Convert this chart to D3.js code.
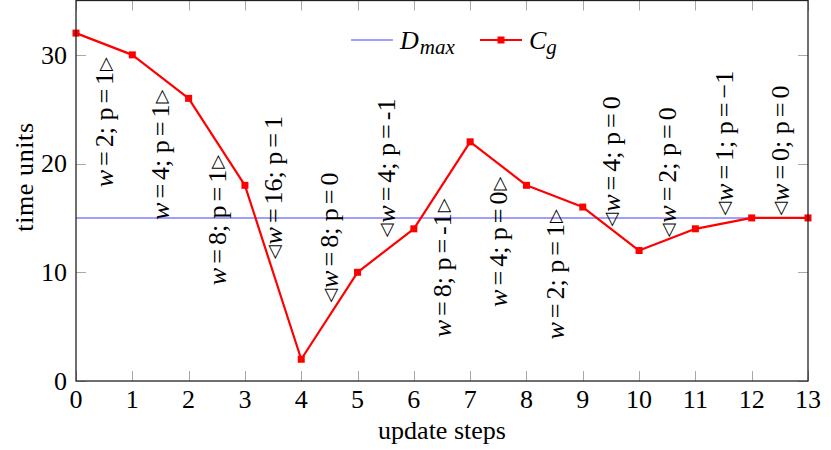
<!DOCTYPE html>
<html>
<head>
<meta charset="utf-8">
<script src="https://cdn.jsdelivr.net/npm/d3@7"></script>
<style>
  html, body { margin: 0; padding: 0; background: #fff; }
  svg { display: block; }
  text { font-family: "Liberation Serif", "DejaVu Serif", serif; fill: #000; }
</style>
</head>
<body>
<svg id="chart" width="831" height="450"></svg>
<script>
// ---- data ----
const steps = [0,1,2,3,4,5,6,7,8,9,10,11,12,13];
const cgValues = [32,30,26,18,2,10,14,22,18,16,12,14,15,15];
const dmaxValue = 15;
const xTicks = [0,1,2,3,4,5,6,7,8,9,10,11,12,13];
const yTicks = [0,10,20,30];
// annotations between steps
const annotSteps = [0.5,1.5,2.5,3.5,4.5,5.5,6.5,7.5,8.5,9.5,10.5,11.5,12.5];
const annotW = ["2","4","8","16","8","4","8","4","2","4","2","1","0"];
const annotP = ["1","1","1","1","0","-1","-1","0","1","0","0","\u22121","0"];
const annotSide = ["below","below","below","above","above","above","below","below","below","above","above","above","above"];
const annotAt = [29.8,26.8,20.8,11.2,7.2,13.2,16.8,18.8,15.8,14.2,13.2,15.2,15.2];

// ---- layout ----
const svg = d3.select("#chart");
const L = 76, R = 808, T = 0.5, B = 381;
const x = d3.scaleLinear().domain([0,13]).range([L,R]);
const y = d3.scaleLinear().domain([0,35]).range([B,T]);
const FS = 26;

// ticks (inward, all sides)
const tickLen = 10;
const tg = svg.append("g").attr("stroke","#a8a8a8").attr("stroke-width",1);
xTicks.forEach(t => {
  const px = Math.round(x(t)) + 0.5;
  tg.append("line").attr("x1",px).attr("x2",px).attr("y1",B).attr("y2",B-tickLen);
  tg.append("line").attr("x1",px).attr("x2",px).attr("y1",T).attr("y2",T+tickLen);
});
yTicks.forEach(t => {
  const py = Math.round(y(t)) + 0.5;
  tg.append("line").attr("x1",L).attr("x2",L+tickLen).attr("y1",py).attr("y2",py);
  tg.append("line").attr("x1",R).attr("x2",R-tickLen).attr("y1",py).attr("y2",py);
});

// tick labels
svg.append("g").selectAll("text").data(xTicks).join("text")
  .attr("x", d => x(d)).attr("y", 408)
  .attr("text-anchor","middle").attr("font-size",FS)
  .text(d => d);
svg.append("g").selectAll("text").data(yTicks).join("text")
  .attr("x", 67).attr("y", d => y(d)).attr("dy","0.34em")
  .attr("text-anchor","end").attr("font-size",FS)
  .text(d => d);

// axis labels
svg.append("text").attr("x",(L+R)/2).attr("y",439).attr("text-anchor","middle")
  .attr("font-size",FS).text("update steps");
svg.append("text").attr("transform","translate(33,177) rotate(-90)")
  .attr("text-anchor","middle").attr("font-size",FS).attr("letter-spacing",0.6).text("time units");

// Dmax line
svg.append("line")
  .attr("x1", x(0)).attr("x2", x(13))
  .attr("y1", y(dmaxValue)).attr("y2", y(dmaxValue))
  .attr("stroke","#7f7fff").attr("stroke-width",1.6);

// Cg line
const line = d3.line().x((d,i) => x(steps[i])).y(d => y(d));
svg.append("path").datum(cgValues).attr("d", line)
  .attr("fill","none").attr("stroke","#ff0000").attr("stroke-width",2.2)
  .attr("stroke-linejoin","round");
const ms = 7;
svg.append("g").selectAll("rect").data(cgValues).join("rect")
  .attr("x",(d,i) => x(steps[i]) - ms/2).attr("y", d => y(d) - ms/2)
  .attr("width",ms).attr("height",ms).attr("fill","#ff0000");

// annotations
const ag = svg.append("g");
const TRI_SHIFT = 2.5;
annotSteps.forEach((s,i) => {
  const below = annotSide[i] === "below";
  const g = ag.append("g")
    .attr("transform", `translate(${x(s)},${y(annotAt[i])}) rotate(-90)`);
  const t = g.append("text")
    .attr("text-anchor", below ? "end" : "start")
    .attr("y", 9)
    .attr("font-size",FS);
  const tri = (ch, dy) => t.append("tspan").attr("font-family","DejaVu Sans").attr("font-size",18)
      .attr("dy", dy).text(ch);
  if (!below) { tri("\u25C1", -TRI_SHIFT); }
  t.append("tspan").attr("font-style","italic").attr("dy", below ? null : TRI_SHIFT).attr("dx", below ? null : 1).text("w");
  t.append("tspan").attr("dx",4).text("=");
  t.append("tspan").attr("dx",4).text(annotW[i] + "; p");
  t.append("tspan").attr("dx",4).text("=");
  t.append("tspan").attr("dx",4).text(annotP[i]);
  if (below) tri("\u25B7", -TRI_SHIFT).attr("dx",1);
});

// legend
const lg = svg.append("g");
lg.append("line").attr("x1",351).attr("x2",393).attr("y1",40).attr("y2",40)
  .attr("stroke","#7f7fff").attr("stroke-width",1.6);
const lt1 = lg.append("text").attr("x",400).attr("y",49).attr("font-size",FS);
lt1.append("tspan").attr("font-style","italic").text("D");
lt1.append("tspan").attr("font-style","italic").attr("font-size",21).attr("dx",1).attr("dy",5).text("max");
lg.append("line").attr("x1",480).attr("x2",522).attr("y1",40).attr("y2",40)
  .attr("stroke","#ff0000").attr("stroke-width",2.2);
lg.append("rect").attr("x",501-ms/2).attr("y",40-ms/2).attr("width",ms).attr("height",ms).attr("fill","#ff0000");
const lt2 = lg.append("text").attr("x",529).attr("y",49).attr("font-size",FS);
lt2.append("tspan").attr("font-style","italic").text("C");
lt2.append("tspan").attr("font-style","italic").attr("font-size",21).attr("dy",5).text("g");

// frame
svg.append("rect").attr("x",L).attr("y",T).attr("width",R-L).attr("height",B-T)
  .attr("fill","none").attr("stroke","#222").attr("stroke-width",1.3);
</script>
</body>
</html>
